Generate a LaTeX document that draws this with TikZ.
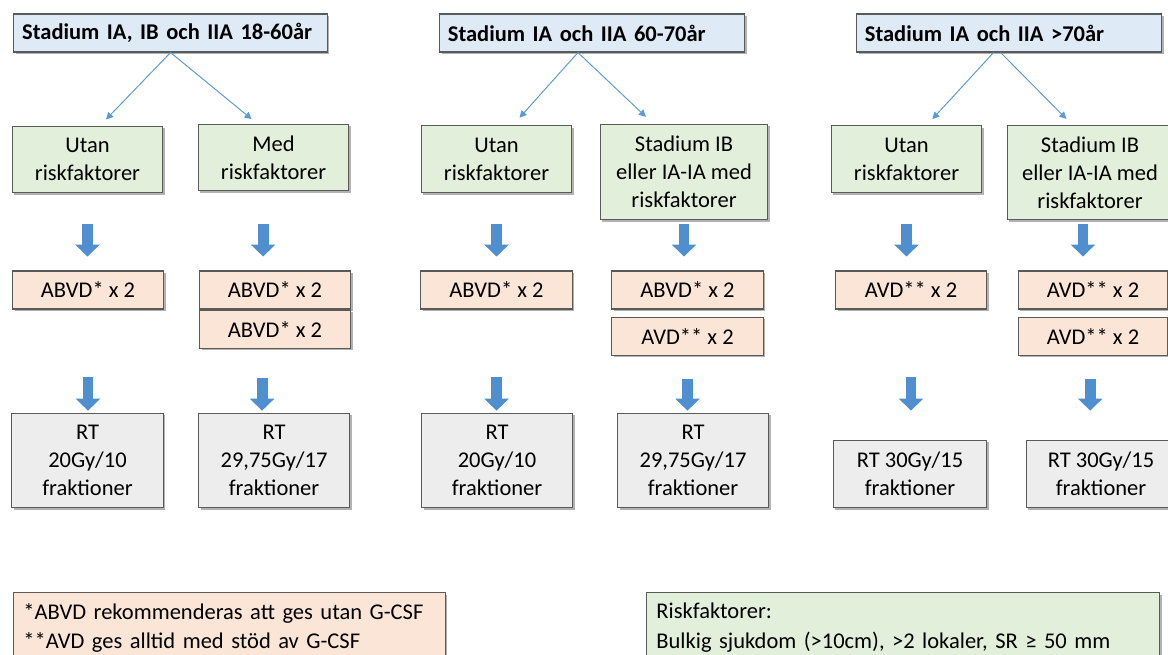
\documentclass[tikz,border=0pt]{standalone}
\usepackage{fontspec}
\setmainfont{Carlito}
\usetikzlibrary{arrows.meta, positioning, shadows}

\definecolor{headblue}{HTML}{DEEAF6}
\definecolor{groupgreen}{HTML}{E2EFDA}
\definecolor{chemopeach}{HTML}{FBE5D6}
\definecolor{rtgray}{HTML}{EDEDED}
\definecolor{boxline}{HTML}{5A5A5A}
\definecolor{thinblue}{HTML}{5B9BD5}
\definecolor{fatblue}{HTML}{4F8FCF}

\begin{document}
\begin{tikzpicture}[
    x=0.025cm, y=-0.025cm,
    font=\fontsize{16}{20}\selectfont,
    box/.style={rectangle, draw=boxline, line width=0.8pt, align=center, inner sep=2pt,
        drop shadow={shadow xshift=1.5pt, shadow yshift=-1.5pt, opacity=0.3, fill=black}},
    header/.style={box, fill=headblue, font=\fontsize{16}{20}\selectfont\bfseries, minimum height=27pt, align=left, inner xsep=6pt},
    group/.style={box, fill=groupgreen, minimum width=107pt, minimum height=47.5pt},
    chemo/.style={box, fill=chemopeach, minimum width=107.5pt, minimum height=27pt},
    rtbox/.style={box, fill=rtgray, minimum width=107.5pt, minimum height=67.3pt},
    note/.style={box, anchor=north west, align=left, inner xsep=7pt, inner ysep=7.5pt, text depth=36pt, font=\fontsize{16}{21}\selectfont},
    arrow/.style={-{Triangle[width=5pt, length=5pt]}, thinblue, line width=0.7pt},
    fatarrow/.style={-{Triangle[width=17pt, length=8.5pt]}, fatblue, line width=7.8pt}
    ]

    \useasboundingbox (0,0) rectangle (1168,655);
    \clip (0,0) rectangle (1168,655);

    % Age groups
    \node[header, text width=211pt] (h1) at (170.5,33) {Stadium IA, IB och IIA 18-60år};
    \node[header, text width=205pt] (h2) at (592,33) {Stadium IA och IIA 60-70år};
    \node[header, text width=205pt] (h3) at (1009,33) {Stadium IA och IIA >70år};

    % Risk groups
    \node[group] (ua) at (87.5,159.5) {Utan\\riskfaktorer};
    \node[group] (ub) at (273.5,157.5) {Med\\riskfaktorer};
    \node[group] (uc) at (496.5,159) {Utan\\riskfaktorer};
    \node[group, minimum width=119pt, minimum height=68pt] (ud) at (684,172) {Stadium IB\\eller IA-IA med\\riskfaktorer};
    \node[group] (ue) at (906.5,159) {Utan\\riskfaktorer};
    \node[group, minimum width=117.6pt, minimum height=67.3pt] (uf) at (1090,172.5) {Stadium IB\\eller IA-IA med\\riskfaktorer};

    % Chemotherapy
    \node[chemo] (ca) at (88,290) {ABVD* x 2};
    \node[chemo] (cb1) at (275,290) {ABVD* x 2};
    \node[chemo, below=0pt of cb1] (cb2) {ABVD* x 2};
    \node[chemo] (cc) at (496.5,290) {ABVD* x 2};
    \node[chemo] (cd1) at (687.5,290) {ABVD* x 2};
    \node[chemo, below=5pt of cd1] (cd2) {AVD** x 2};
    \node[chemo] (ce) at (911,290) {AVD** x 2};
    \node[chemo, minimum width=106.3pt] (cf1) at (1093,290) {AVD** x 2};
    \node[chemo, minimum width=106.3pt, below=5pt of cf1] (cf2) {AVD** x 2};

    % Radiotherapy
    \node[rtbox] (ra) at (87.5,460.5) {RT\\20Gy/10\\fraktioner};
    \node[rtbox] (rb) at (274,460.5) {RT\\29,75Gy/17\\fraktioner};
    \node[rtbox] (rc) at (497,460.5) {RT\\20Gy/10\\fraktioner};
    \node[rtbox] (rd) at (693,460.5) {RT\\29,75Gy/17\\fraktioner};
    \node[rtbox, minimum width=109pt, minimum height=48.2pt] (re) at (910,474) {RT 30Gy/15\\fraktioner};
    \node[rtbox, minimum width=106.3pt, minimum height=48.2pt] (rf) at (1101,474) {RT 30Gy/15\\fraktioner};

    % Footnotes
    \node[note, fill=chemopeach, text width=293pt] (fn) at (13,592) {*ABVD rekommenderas att ges utan G-CSF\\{}**AVD ges alltid med stöd av G-CSF};
    \node[note, fill=groupgreen, text width=351pt] (rf-note) at (646,592) {Riskfaktorer:\\Bulkig sjukdom (>10cm), >2 lokaler, SR ≥ 50 mm};

    % Split by risk
    \draw[arrow, shorten >=6pt] (h1.south) -- ([xshift=9pt]ua.north);
    \draw[arrow, shorten >=5pt] (h1.south) -- ([xshift=-11.7pt]ub.north);
    \draw[arrow, shorten >=7pt] ([xshift=-10pt]h2.south) -- ([xshift=11.7pt]uc.north);
    \draw[arrow, shorten >=7pt] ([xshift=-10pt]h2.south) -- ([xshift=-22pt]ud.north);
    \draw[arrow, shorten >=5.7pt] ([xshift=-11pt]h3.south) -- ([xshift=14.5pt]ue.north);
    \draw[arrow, shorten >=5.7pt] ([xshift=-6pt]h3.south) -- ([xshift=-12.8pt]uf.north);

    % Risk group to chemotherapy
    \draw[fatarrow, shorten <=22pt, shorten >=9.9pt] (ua.south) -- (ua.south |- ca.north);
    \draw[fatarrow, shorten <=23.4pt, shorten >=9.9pt] ([xshift=-7.4pt]ub.south) -- ([xshift=-7.4pt]ub.south |- cb1.north);
    \draw[fatarrow, shorten <=22pt, shorten >=9.9pt] (uc.south) -- (uc.south |- cc.north);
    \draw[fatarrow, shorten <=2.8pt, shorten >=9.9pt] (ud.south) -- (ud.south |- cd1.north);
    \draw[fatarrow, shorten <=22pt, shorten >=9.9pt] (ue.south) -- (ue.south |- ce.north);
    \draw[fatarrow, shorten <=2.8pt, shorten >=9.9pt] ([xshift=-5pt]uf.south) -- ([xshift=-5pt]uf.south |- cf1.north);

    % Chemotherapy to radiotherapy
    \draw[fatarrow, shorten <=48.2pt, shorten >=1.4pt] (ca.south) -- (ca.south |- ra.north);
    \draw[fatarrow, shorten <=20.6pt, shorten >=1.4pt] ([xshift=-9.2pt]cb2.south) -- ([xshift=-9.2pt]cb2.south |- rb.north);
    \draw[fatarrow, shorten <=48.2pt, shorten >=1.4pt] (cc.south) -- (cc.south |- rc.north);
    \draw[fatarrow, shorten <=16.3pt, shorten >=1.4pt] (cd2.south) -- (cd2.south |- rd.north);
    \draw[fatarrow, shorten <=48.2pt, shorten >=20.6pt] (ce.south) -- (ce.south |- re.north);
    \draw[fatarrow, shorten <=16.3pt, shorten >=20.6pt] ([xshift=-2pt]cf2.south) -- ([xshift=-2pt]cf2.south |- rf.north);

\end{tikzpicture}
\end{document}
